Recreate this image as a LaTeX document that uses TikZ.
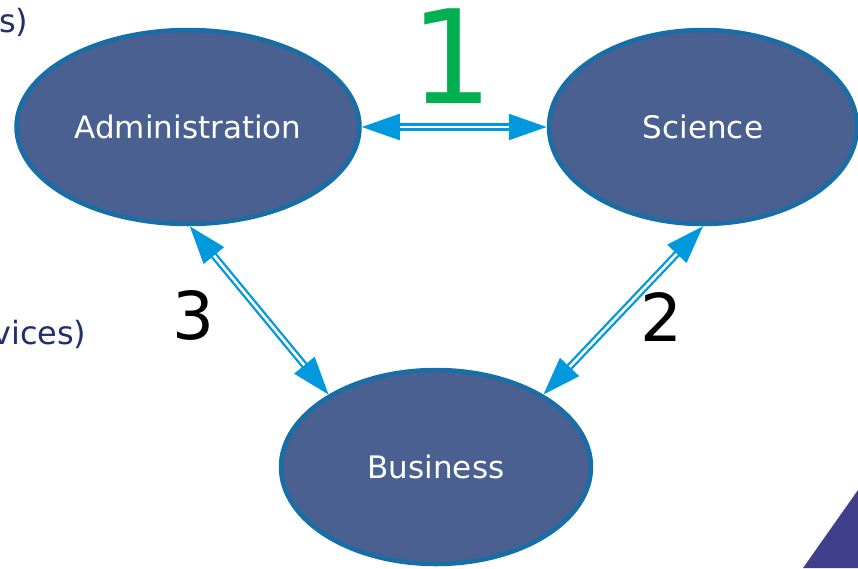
\documentclass[tikz,border=0pt]{standalone}
\usepackage{fontspec}
\setmainfont{DejaVu Sans}
\usetikzlibrary{arrows.meta,shapes.geometric}

\definecolor{ovalfill}{HTML}{4A6090}
\definecolor{ovalline}{HTML}{186EA6}
\definecolor{arrowblue}{HTML}{0099DD}
\definecolor{numgreen}{HTML}{00B050}
\definecolor{navytext}{HTML}{1F2F6F}
\definecolor{cornerblue}{HTML}{40408A}

\tikzset{
  oval/.style={ellipse, draw=ovalline, line width=4.5pt, fill=ovalfill, text=white, font=\fontsize{31}{34}\selectfont},
  link/.style={draw=arrowblue, line width=2.3pt, double=white, double distance=2.6pt,
    {Triangle[length=38pt,width=26pt,fill=arrowblue]}-{Triangle[length=38pt,width=26pt,fill=arrowblue]}},
  number/.style={font=\fontsize{66}{70}\selectfont}
}

\begin{document}
\begin{tikzpicture}[x=1pt, y=-1pt]
  \useasboundingbox (0,0) rectangle (858,568);
  % Corner
  \fill[cornerblue] (803,568) -- (858,490) -- (858,568) -- cycle;
  % Side text
  \node (cut-top) [anchor=east, text=navytext, font=\fontsize{32}{34}\selectfont] at (32,22) {s)};
  \node (cut-mid) [anchor=east, text=navytext, font=\fontsize{32}{34}\selectfont] at (90,334) {vices)};
  % Nodes
  \node (admin) [oval, minimum width=343pt, minimum height=194pt] at (188,127) {Administration};
  \node (science) [oval, minimum width=308pt, minimum height=194pt] at (703,127) {Science};
  \node (business) [oval, minimum width=310pt, minimum height=194pt] at (436,467) {Business};
  % Arrow
  \draw[link] (admin.-89) -- (business.146);
  \draw[link] (admin) -- (science);
  \draw[link] (science.-90) -- (business.34);
  % Labels
  \node (one) [number, text=numgreen, font=\fontsize{130}{130}\selectfont] at (452,56) {1};
  \node (three) [number] at (193,315) {3};
  \node (two) [number] at (661,317) {2};
\end{tikzpicture}
\end{document}
